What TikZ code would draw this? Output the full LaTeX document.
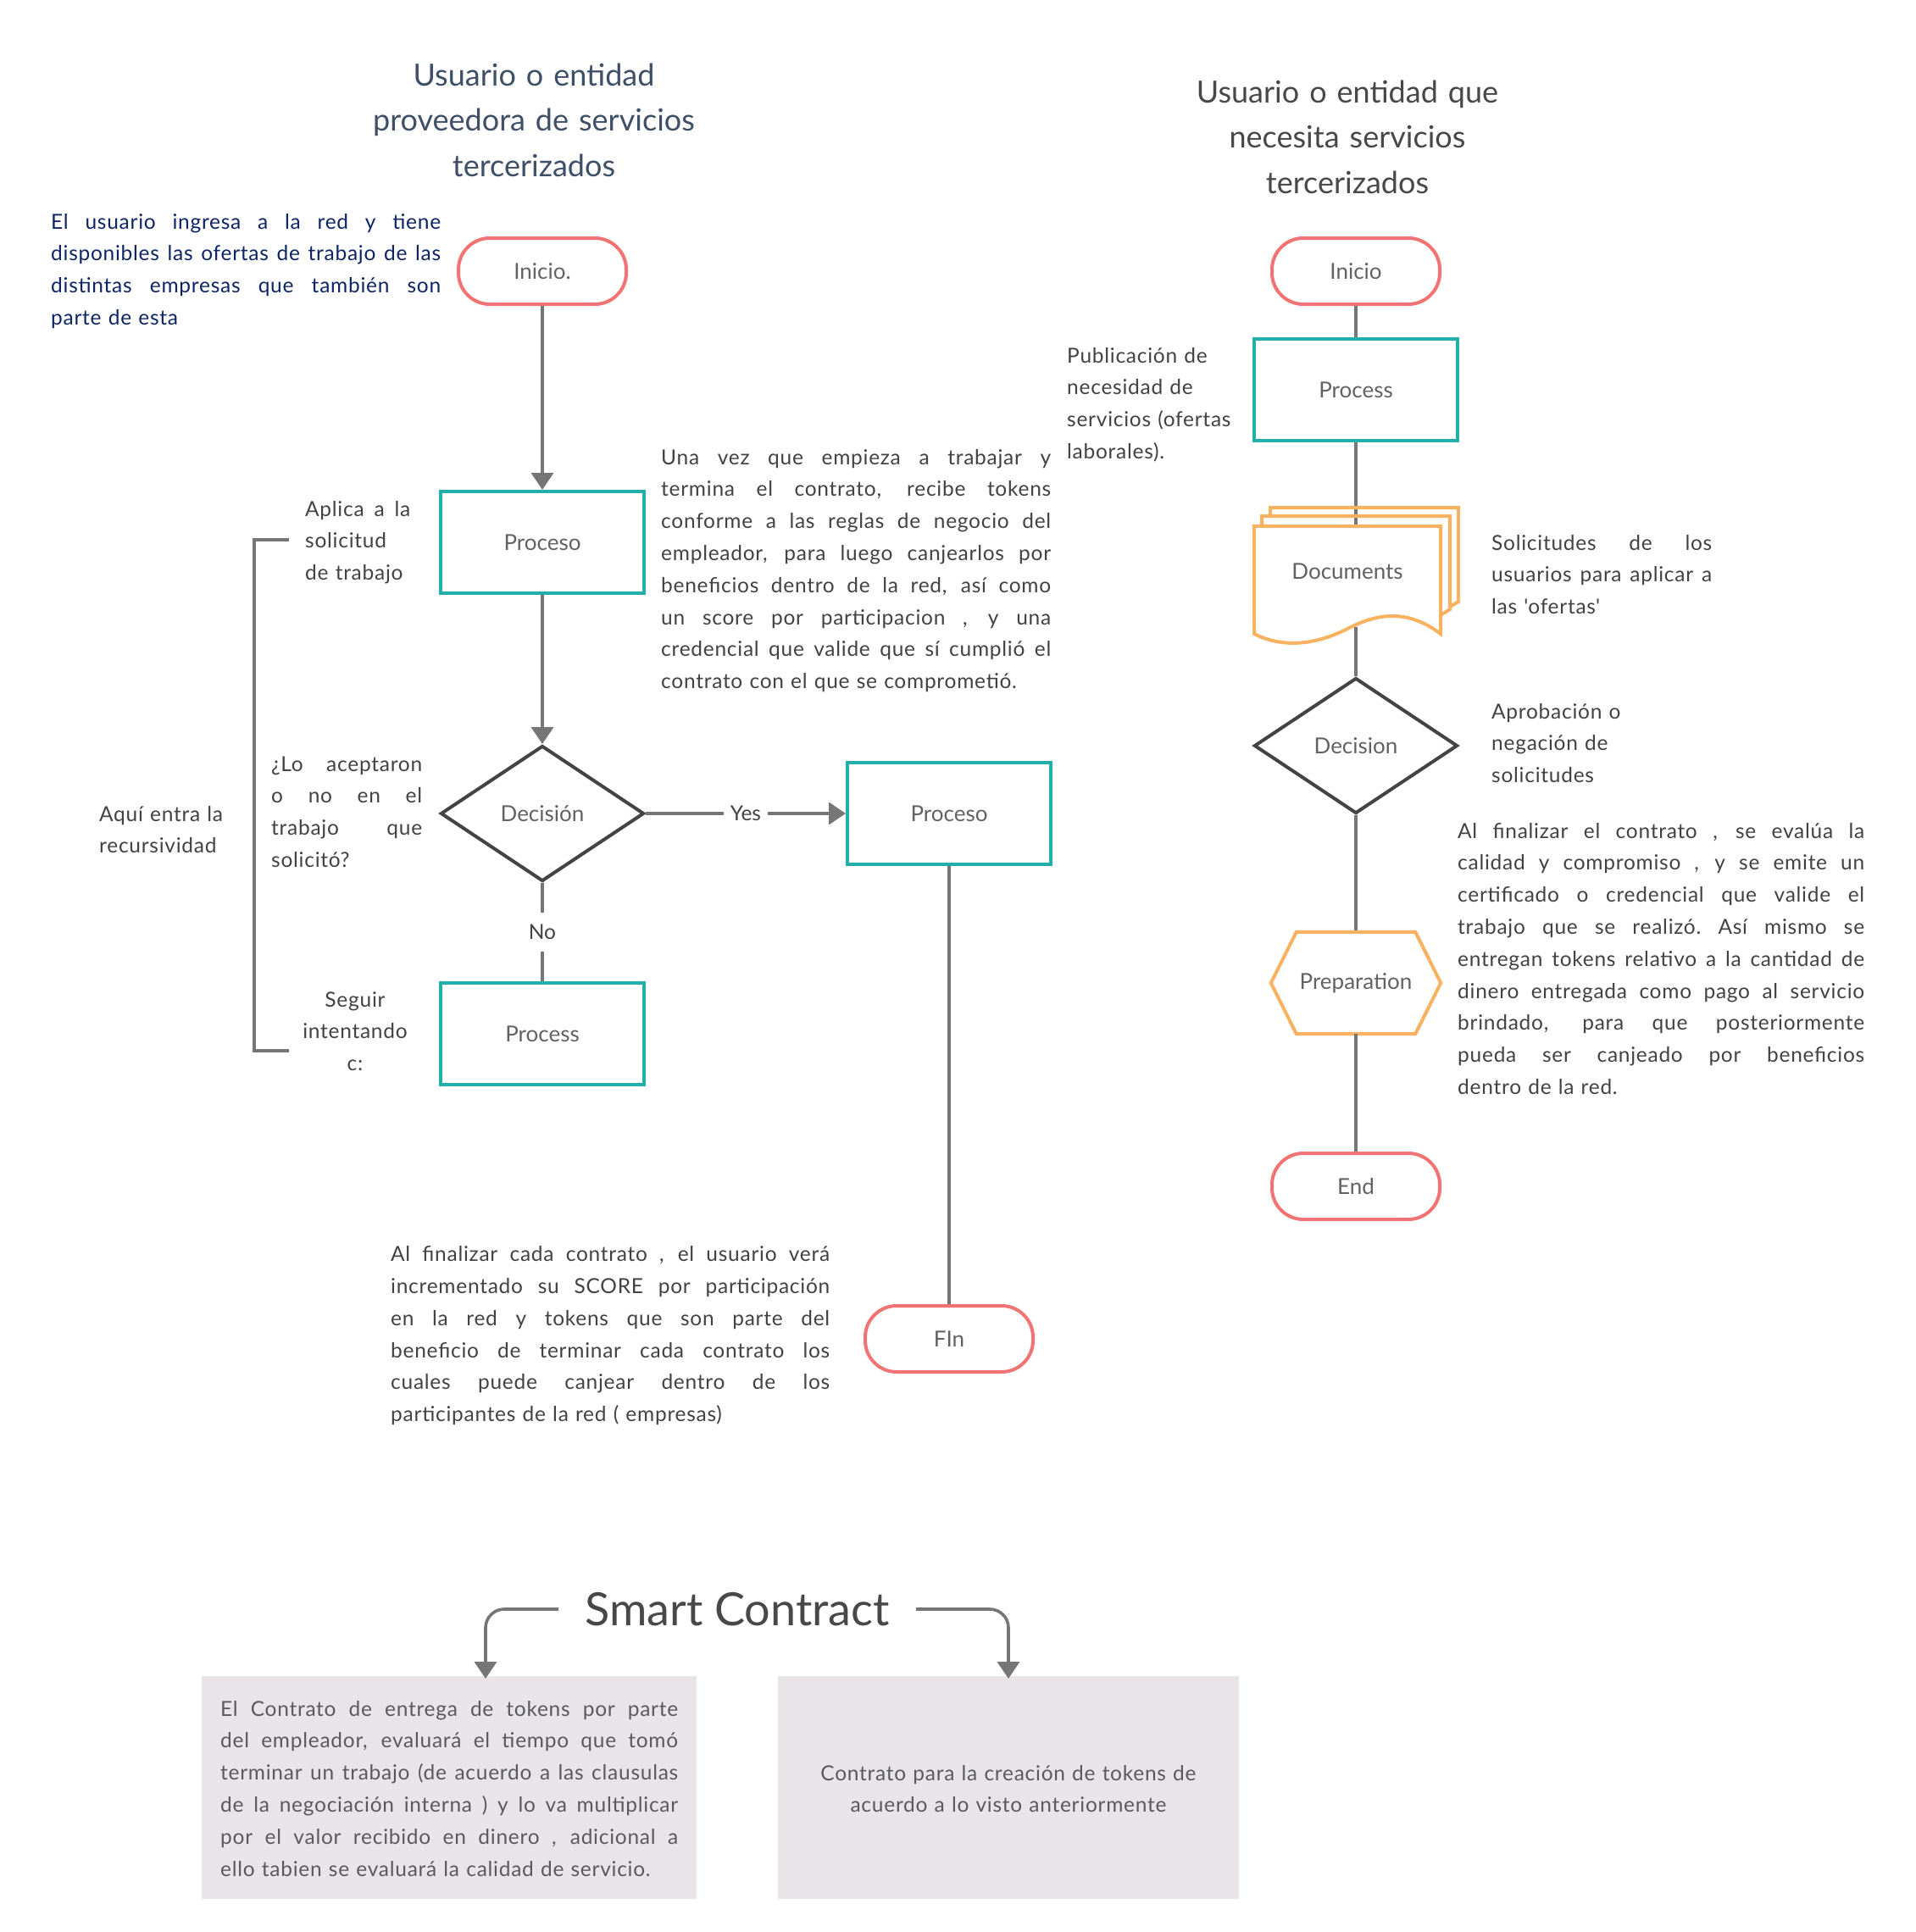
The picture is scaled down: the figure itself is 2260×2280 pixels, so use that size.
\documentclass[tikz,border=0pt]{standalone}
\usepackage{fontspec}
\setmainfont{Lato}
\newfontfamily\bodyf{Lato}[LetterSpace=3]
\usetikzlibrary{arrows.meta,shapes.geometric}
\definecolor{termred}{HTML}{F27373}
\definecolor{tealc}{HTML}{22B0AB}
\definecolor{decgray}{HTML}{444444}
\definecolor{docorange}{HTML}{F8B260}
\definecolor{conngray}{HTML}{767676}
\definecolor{lblgray}{HTML}{626262}
\definecolor{bodygray}{HTML}{424242}
\definecolor{navyc}{HTML}{0E2565}
\definecolor{slatec}{HTML}{3F4F66}
\definecolor{titlegray}{HTML}{484848}
\definecolor{boxfill}{HTML}{E8E4E8}
\definecolor{boxtext}{HTML}{5A5A5A}
\newcommand{\justline}[2]{\makebox[#1][s]{\spaceskip=\fontdimen2\font plus 1fil\xspaceskip=\spaceskip\relax #2}}
\begin{document}
\begin{tikzpicture}[x=1pt,y=-1pt,
  shapelbl/.style={font=\fontsize{26}{30}\selectfont, text=lblgray},
  term/.style={draw=termred, line width=4pt, rounded corners=37pt, minimum width=198pt, minimum height=78pt, inner sep=0pt, shapelbl},
  proc/.style={draw=tealc, line width=4pt, minimum width=240pt, minimum height=120pt, inner sep=0pt, shapelbl},
  dec/.style={diamond, draw=decgray, line width=4pt, minimum width=240pt, minimum height=160pt, inner sep=0pt, shape aspect=1.5, shapelbl},
  blank/.style={inner sep=0pt, shapelbl},
  pagestroke/.style={draw=docorange, line width=4pt, line join=miter},
  conn/.style={draw=conngray, line width=3.6pt},
  arr/.style={-{Triangle[length=20pt,width=26pt]}},
  lbl/.style={fill=white, inner xsep=8pt, inner ysep=14pt, font=\fontsize{24.5}{30}\selectfont, text=bodygray},
  para/.style={anchor=north west, inner sep=0pt, align=left, font=\bodyf\fontsize{24.5}{37.8}\selectfont, text=bodygray},
  cpara/.style={anchor=north, inner sep=0pt, align=center, font=\bodyf\fontsize{24.5}{37.8}\selectfont, text=bodygray},
  title/.style={anchor=north, inner sep=0pt, align=center, text width=520pt, font=\fontsize{36}{53.8}\selectfont},
  gbox/.style={fill=boxfill, inner sep=0pt, minimum height=263pt}
]
\fill[white] (0,0) rectangle (2260,2280);
\useasboundingbox (0,0) rectangle (2260,2280);

% ---------- titles ----------
\node[title, text=slatec] (t1) at (630,63.3) {\strut Usuario o entidad\\proveedora de servicios\\tercerizados};
\node[title, text=titlegray] (t2) at (1590,83.3) {\strut Usuario o entidad que\\necesita servicios\\tercerizados};

% ---------- left flow ----------
\node[term] (ini) at (640,320) {Inicio.};
\node[proc] (p1) at (640,640) {Proceso};
\node[dec] (d1) at (640,960) {Decisión};
\node[proc] (p2) at (1120,960) {Proceso};
\node[proc] (p3) at (640,1220) {Process};
\node[term] (fin) at (1120,1580) {FIn};

\draw[conn,arr] (ini) -- (p1);
\draw[conn,arr] (p1) -- (d1);
\draw[conn,arr] (d1) -- node[lbl] (yes) {Yes} (p2);
\draw[conn] (d1) -- node[lbl] (no) {No} (p3);
\draw[conn] (p2) -- (fin);

% bracket
\coordinate (bt) at (341,637);
\coordinate (bb) at (341,1240);
\draw[conn] (bt) -- (300,637) -- (300,1240) -- (bb);

% ---------- left texts ----------
\node[para, text=navyc, text width=460pt] (blue) at (60,243.5) {\strut\justline{460pt}{El usuario ingresa a la red y tiene}\\\justline{460pt}{disponibles las ofertas de trabajo de las}\\\justline{460pt}{distintas empresas que también son}\\parte de esta};

\node[para, text width=124pt] (aplica) at (360,582.5) {\strut\justline{124pt}{Aplica a la}\\solicitud\\de trabajo};

\node[para, text width=460pt] (unavez) at (780,521.5) {\strut\justline{460pt}{Una vez que empieza a trabajar y}\\\justline{460pt}{termina el contrato, recibe tokens}\\\justline{460pt}{conforme a las reglas de negocio del}\\\justline{460pt}{empleador, para luego canjearlos por}\\\justline{460pt}{beneficios dentro de la red, así como}\\\justline{460pt}{un score por participacion , y una}\\\justline{460pt}{credencial que valide que sí cumplió el}\\contrato con el que se comprometió.};

\node[para, text width=178pt] (acept) at (320,883.5) {\strut\justline{178pt}{¿Lo aceptaron}\\\justline{178pt}{o no en el}\\\justline{178pt}{trabajo que}\\solicitó?};

\node[para, text width=160pt] (aqui) at (117,942.5) {\strut Aquí entra la\\recursividad};

\node[cpara, text width=160pt] (seguir) at (419,1161.5) {\strut Seguir\\intentando\\c:};

\node[para, text width=518pt] (alfin) at (461,1462) {\strut\justline{518pt}{Al finalizar cada contrato , el usuario verá}\\\justline{518pt}{incrementado su SCORE por participación}\\\justline{518pt}{en la red y tokens que son parte del}\\\justline{518pt}{beneficio de terminar cada contrato los}\\\justline{518pt}{cuales puede canjear dentro de los}\\participantes de la red ( empresas)};

% ---------- right flow ----------
\node[term] (ini2) at (1600,320) {Inicio};
\node[proc] (pr2) at (1600,460) {Process};
\node[blank, minimum width=220pt, minimum height=106pt] (docs) at (1590,674) {};
\node[dec] (d2) at (1600,880) {Decision};
\node[blank, minimum width=200pt, minimum height=120pt] (prep) at (1600,1160) {Preparation};
\node[term] (endn) at (1600,1400) {End};

\draw[conn] (ini2) -- (pr2);
\draw[conn] (pr2.south) -- ([yshift=-7pt]pr2.south |- docs.north);
% document pages
\draw[pagestroke] (1499,609) -- (1499,599) -- (1721,599) -- (1721,710) -- (1711,716);
\draw[pagestroke] (1489,621) -- (1489,609) -- (1711,609) -- (1711,719) -- (1700,726);
\draw[pagestroke, fill=white] (docs.north west) -- (docs.north east) -- (1700,748)
   .. controls (1660,718) and (1625,724) .. (1590,742)
   .. controls (1555,760) and (1515,766) .. (1480,748) -- cycle;
\node[blank] (docslbl) at (docs.center) {Documents};
\coordinate (docbot) at (1600,740);
\draw[conn] (docbot) -- (d2.north);
\draw[conn] (d2) -- (prep);
\draw[pagestroke] (prep.west) -- ([xshift=30pt]prep.north west) -- ([xshift=-30pt]prep.north east) -- (prep.east) -- ([xshift=-30pt]prep.south east) -- ([xshift=30pt]prep.south west) -- cycle;
\draw[conn] (prep) -- (endn);

% ---------- right texts ----------
\node[para, text width=200pt] (publ) at (1259,401.5) {\strut Publicación de\\necesidad de\\servicios (ofertas\\laborales).};

\node[para, text width=260pt] (solic) at (1760,622.5) {\strut\justline{260pt}{Solicitudes de los}\\\justline{260pt}{usuarios para aplicar a}\\las \textquotesingle ofertas\textquotesingle};

\node[para, text width=200pt] (aprob) at (1760,821.5) {\strut Aprobación o\\negación de\\solicitudes};

\node[para, text width=480pt] (alfin2) at (1720,962.5) {\strut\justline{480pt}{Al finalizar el contrato , se evalúa la}\\\justline{480pt}{calidad y compromiso , y se emite un}\\\justline{480pt}{certificado o credencial que valide el}\\\justline{480pt}{trabajo que se realizó. Así mismo se}\\\justline{480pt}{entregan tokens relativo a la cantidad de}\\\justline{480pt}{dinero entregada como pago al servicio}\\\justline{480pt}{brindado, para que posteriormente}\\\justline{480pt}{pueda ser canjeado por beneficios}\\dentro de la red.};

% ---------- smart contract ----------
\node[inner xsep=31pt, inner ysep=0pt, font=\fontsize{54}{60}\selectfont, text=titlegray] (sc) at (870,1899) {Smart Contract};
\node[gbox, minimum width=584pt] (lb) at (530,2109.5) {};
\node[gbox, minimum width=544pt] (rb) at (1190,2109.5) {};
\coordinate (la) at (573,1981);
\coordinate (ra) at (1190,1981);
\draw[conn, arr, rounded corners=22pt] (sc.west) -| (la);
\draw[conn, arr, rounded corners=22pt] (sc.east) -| (ra);

\node[para, text=boxtext, text width=540pt] (lbt) at (260,1998.5) {\strut\justline{540pt}{El Contrato de entrega de tokens por parte}\\\justline{540pt}{del empleador, evaluará el tiempo que tomó}\\\justline{540pt}{terminar un trabajo (de acuerdo a las clausulas}\\\justline{540pt}{de la negociación interna ) y lo va multiplicar}\\\justline{540pt}{por el valor recibido en dinero , adicional a}\\ello tabien se evaluará la calidad de servicio.};

\node[cpara, text=boxtext, text width=520pt] (rbt) at (1190,2074.5) {\strut Contrato para la creación de tokens de\\acuerdo a lo visto anteriormente};
\end{tikzpicture}
\end{document}
